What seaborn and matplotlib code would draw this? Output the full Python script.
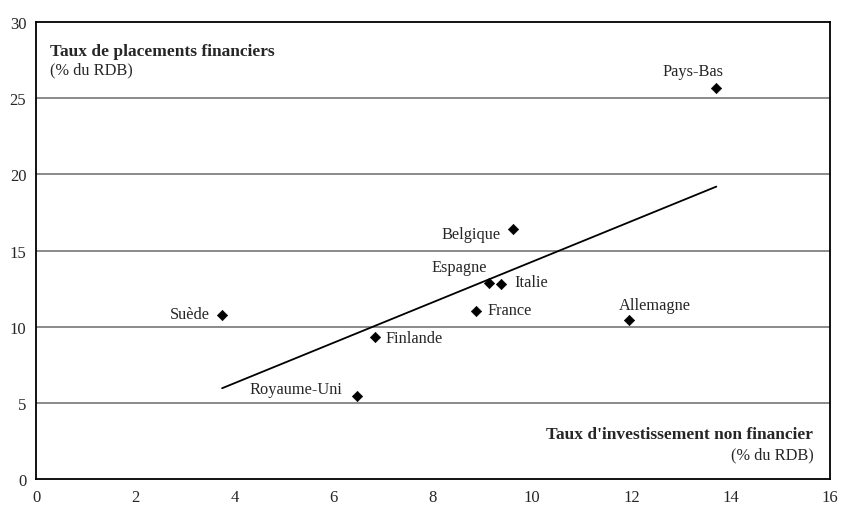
import numpy as np
import pandas as pd
import seaborn as sns
import matplotlib.pyplot as plt

countries = ["Pays-Bas", "Belgique", "Espagne", "Italie", "France",
             "Allemagne", "Suède", "Finlande", "Royaume-Uni"]
invest = [13.71, 9.62, 9.13, 9.38, 8.87, 11.94, 3.75, 6.83, 6.47]
placements = [25.65, 16.4, 12.85, 12.8, 11.0, 10.45, 10.75, 9.35, 5.45]

# label offsets in pixels (dx, dy) and alignment
offsets = {
    "Pays-Bas": (-23, 17, "center"),
    "Belgique": (-13, -5, "right"),
    "Espagne": (-2, 16, "right"),
    "Italie": (13, 2, "left"),
    "France": (11, 1, "left"),
    "Allemagne": (26, 15, "center"),
    "Suède": (-12, 1, "right"),
    "Finlande": (11, -1, "left"),
    "Royaume-Uni": (-15, 7, "right"),
}

df = pd.DataFrame({"pays": countries, "x": invest, "y": placements})

sns.set_style("white")
plt.rcParams["font.family"] = ["Liberation Serif", "DejaVu Serif"]

fig = plt.figure(figsize=(8.42, 5.06), dpi=100)
ax = fig.add_axes([0.0428, 0.0514, 0.9429, 0.9031])

sns.regplot(data=df, x="x", y="y", ax=ax, scatter=False, ci=None,
            line_kws={"color": "black", "lw": 1.3})
sns.scatterplot(data=df, x="x", y="y", ax=ax, marker="D", s=28,
                color="black", edgecolor="black", zorder=5)

for _, r in df.iterrows():
    dx, dy, ha = offsets[r["pays"]]
    ax.annotate(r["pays"], (r["x"], r["y"]), xytext=(dx, dy),
                textcoords="offset pixels", ha=ha, va="center",
                fontsize=11.8)

ax.set_xlim(0, 16)
ax.set_ylim(0, 30)
ax.set_xticks(range(0, 17, 2))
ax.set_yticks(range(0, 31, 5))
for v in range(5, 30, 5):
    ax.axhline(v, color="#777777", lw=1.2, zorder=1)
ax.set_xlabel("")
ax.set_ylabel("")
for s in ax.spines.values():
    s.set_color("black")
    s.set_linewidth(1.3)
ax.tick_params(axis="both", direction="out", length=4, width=1,
               color="black", labelsize=12, pad=3)

ax.text(0.017, 0.955, "Taux de placements financiers", transform=ax.transAxes,
        fontsize=12.5, fontweight="bold", va="top", ha="left")
ax.text(0.017, 0.913, "(% du RDB)", transform=ax.transAxes,
        fontsize=11.8, va="top", ha="left")
ax.text(0.979, 0.117, "Taux d'investissement non financier", transform=ax.transAxes,
        fontsize=12.5, fontweight="bold", va="top", ha="right")
ax.text(0.979, 0.072, "(% du RDB)", transform=ax.transAxes,
        fontsize=11.8, va="top", ha="right")

fig.savefig("out.png", dpi=100)
